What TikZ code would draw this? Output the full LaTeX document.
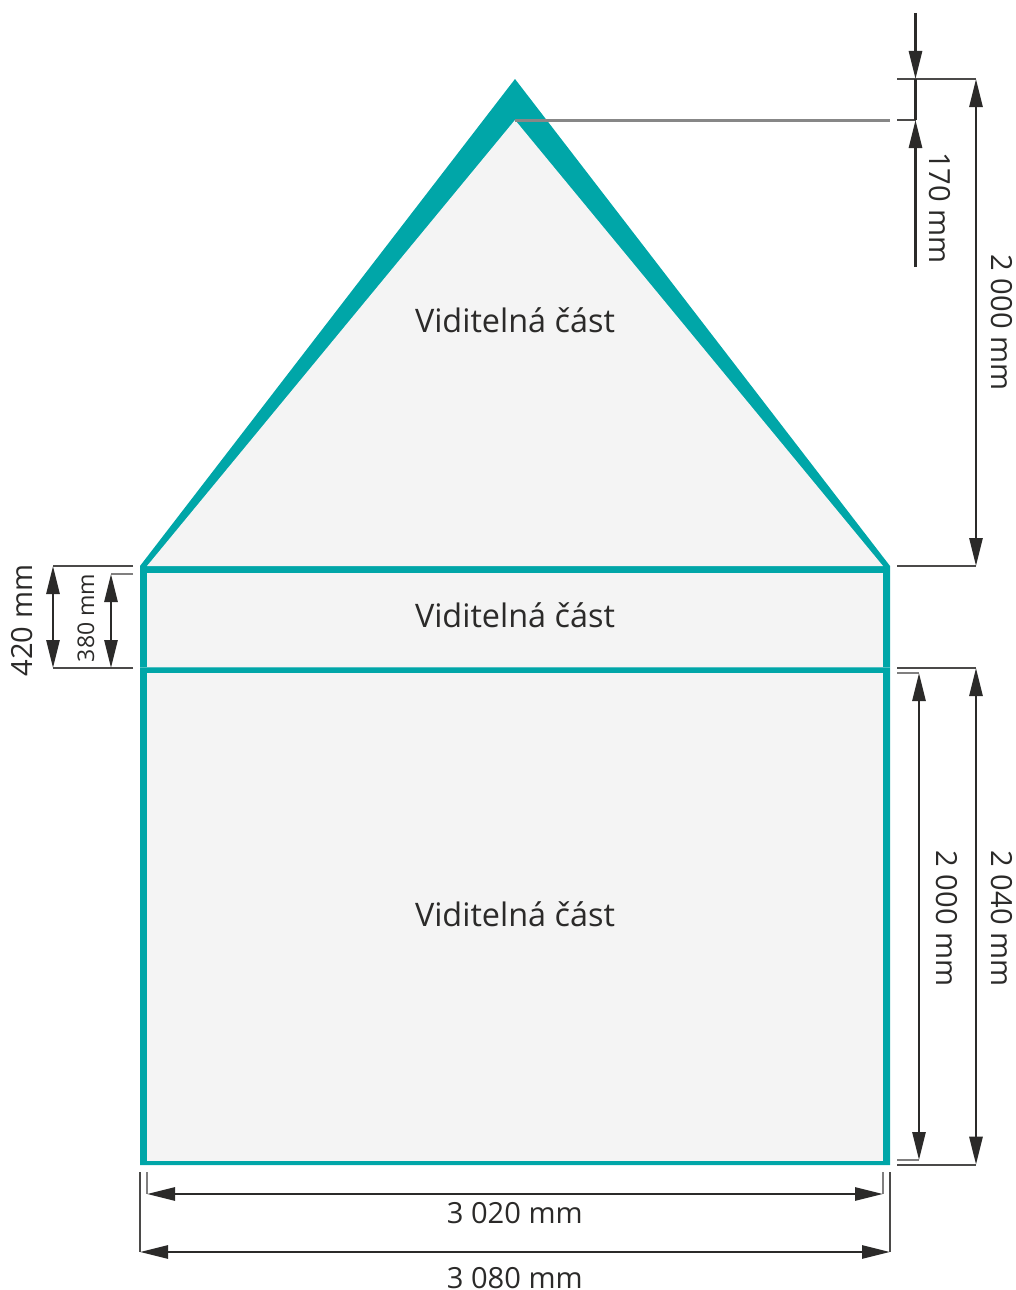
\documentclass[tikz,border=0pt]{standalone}
\usepackage{fontspec}
\setmainfont{Open Sans}
\usetikzlibrary{arrows.meta}
\definecolor{tealband}{HTML}{00A6A8}
\definecolor{panel}{HTML}{F4F4F4}
\definecolor{ink}{HTML}{2B2A29}
\definecolor{seam}{HTML}{4FBFC1}
\tikzset{
  dimline/.style={draw=ink,line width=2.8pt,{Triangle[length=28pt,width=13pt]}-{Triangle[length=28pt,width=13pt]}},
  dimone/.style={draw=ink,line width=2.8pt,-{Triangle[length=28pt,width=13pt]}},
  extline/.style={draw=ink!85,line width=1.6pt},
  lightext/.style={draw=ink!60,line width=1.6pt},
  leader/.style={draw=black!47,line width=3pt},
  bigtxt/.style={text=ink,font=\fontsize{32.4}{33}\selectfont,inner sep=0pt},
  dimtxt/.style={text=ink,font=\fontsize{29.1}{29}\selectfont,inner sep=0pt},
  smalltxt/.style={text=ink,font=\fontsize{23}{23}\selectfont,inner sep=0pt}
}
\begin{document}
\begin{tikzpicture}[x=1pt,y=-1pt]
\useasboundingbox (0,0) rectangle (1016,1290);
% teal shapes
\fill[tealband] (515,79) -- (890,566) -- (890,1165) -- (140,1165) -- (140,566) -- cycle;
\fill[panel] (515,120) -- (883,566) -- (147,566) -- cycle;
\fill[panel] (147,573) rectangle (883,666.6);
\fill[panel] (147,673) rectangle (883,1161);
\draw[seam,line width=0.8pt] (140,667.8) -- (890,667.8);
% coordinates
\coordinate (apexIn) at (515,120);
\coordinate (leadEnd) at (890,120);
\coordinate (topStart) at (915.5,13);
\coordinate (topTip) at (915.5,79);
\coordinate (midTip) at (915.5,120);
\coordinate (lowEnd) at (915.5,267);
\coordinate (e1a) at (897,79); \coordinate (e1b) at (976,79);
\coordinate (e2a) at (897,120);
\coordinate (e3a) at (897,566); \coordinate (e3b) at (976,566);
\coordinate (e4a) at (897,668); \coordinate (e4b) at (976,668);
\coordinate (e5a) at (897,673); \coordinate (e5b) at (919,673);
\coordinate (e6a) at (897,1160); \coordinate (e6b) at (919,1160);
\coordinate (e7a) at (897,1164.7); \coordinate (e7b) at (976,1164.7);
\coordinate (b1a) at (147,1172); \coordinate (b1b) at (147,1194);
\coordinate (b2a) at (883,1172); \coordinate (b2b) at (883,1194);
\coordinate (b3a) at (140,1172); \coordinate (b3b) at (140,1252);
\coordinate (b4a) at (890,1172); \coordinate (b4b) at (890,1252);
\coordinate (l1a) at (133,566); \coordinate (l1b) at (53,566);
\coordinate (l2a) at (133,574); \coordinate (l2b) at (111,574);
\coordinate (l3a) at (133,668); \coordinate (l3b) at (53,668);
\coordinate (l4b) at (111,668);
% extension lines
\draw[leader] (apexIn) -- (leadEnd);
\draw[extline] (e1a) -- (e1b);
\draw[extline] (e2a) -- (midTip);
\draw[extline] (e3a) -- (e3b);
\draw[extline] (e4a) -- (e4b);
\draw[lightext] (e5a) -- (e5b);
\draw[lightext] (e6a) -- (e6b);
\draw[extline] (e7a) -- (e7b);
\draw[lightext] (b1a) -- (b1b);
\draw[lightext] (b2a) -- (b2b);
\draw[extline] (b3a) -- (b3b);
\draw[extline] (b4a) -- (b4b);
\draw[extline] (l1a) -- (l1b);
\draw[lightext] (l2a) -- (l2b);
\draw[extline] (l3a) -- (l3b);
% dimension arrows
\draw[dimone] (topStart) -- (topTip);
\draw[draw=ink,line width=2.8pt] (topTip) -- (midTip);
\draw[dimone] (lowEnd) -- (midTip);
\draw[dimline] (e1b) -- (e3b);
\draw[dimline] (e4b) -- (e7b);
\draw[dimline] (e5b) -- (e6b);
\draw[dimline] (b1b) -- (b2b);
\draw[dimline] (b3b) -- (b4b);
\draw[dimline] (l1b) -- (l3b);
\draw[dimline] (l2b) -- (l4b);
% text
\node[bigtxt] (t1) at (515,320.5) {Viditelná část};
\node[bigtxt] (t2) at (515,615.5) {Viditelná část};
\node[bigtxt] (t3) at (515,914.5) {Viditelná část};
\node[dimtxt] (d1) at (514.8,1213) {3 020 mm};
\node[dimtxt] (d2) at (514.8,1278.5) {3 080 mm};
\node[dimtxt,rotate=-90] (d3) at (1002,322.5) {2 000 mm};
\node[dimtxt,rotate=-90] (d4) at (940,208) {170 mm};
\node[dimtxt,rotate=-90] (d5) at (946.5,918.5) {2 000 mm};
\node[dimtxt,rotate=-90] (d6) at (1002,918.5) {2 040 mm};
\node[dimtxt,rotate=90] (d7) at (22.5,620.5) {420 mm};
\node[smalltxt,rotate=90] (d8) at (86,618) {380 mm};
\end{tikzpicture}
\end{document}
